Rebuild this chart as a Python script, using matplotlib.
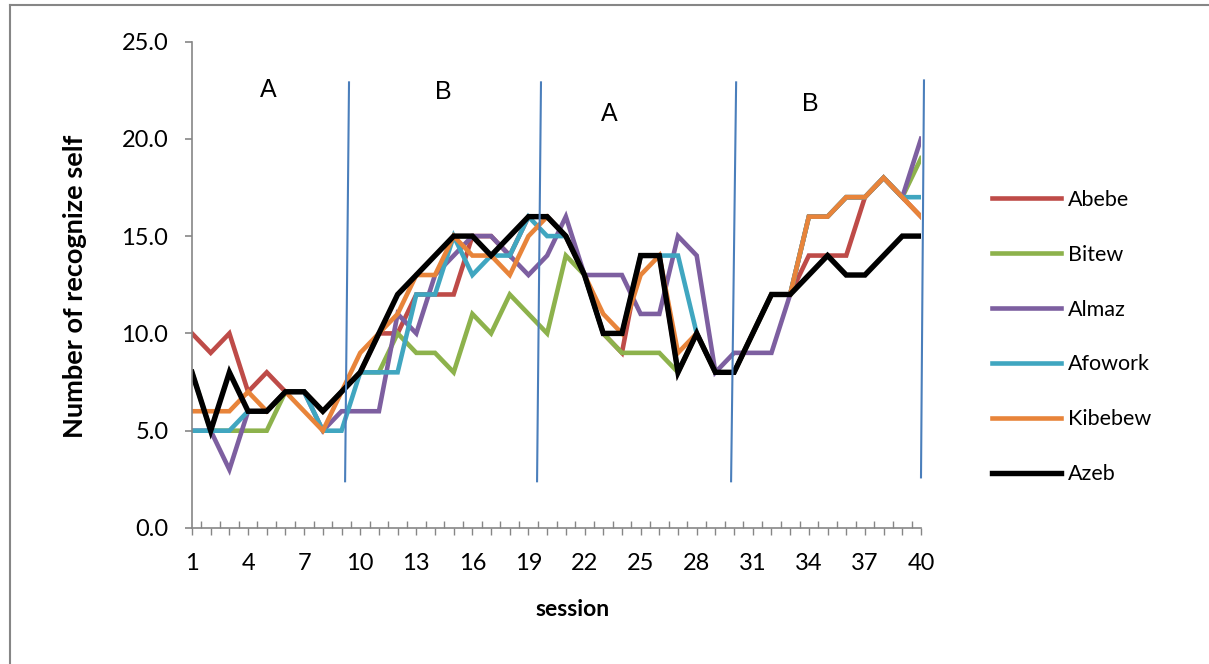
import numpy as np
import matplotlib

matplotlib.use('Agg')
import matplotlib.pyplot as plt
from matplotlib.ticker import FixedLocator, FormatStrFormatter

sessions = np.arange(1, 41)

abebe = [10, 9, 10, 7, 8, 7, 7, 6, 7, 8, 10, 10, 12, 12, 12, 15, 15, 14, 16, 16,
         15, 13, 10, 9, 14, 14, 8, 10, 8, 8, 10, 12, 12, 14, 14, 14, 17, 18, 17, 16]
bitew = [8, 5, 5, 5, 5, 7, 7, 6, 7, 8, 8, 10, 9, 9, 8, 11, 10, 12, 11, 10,
         14, 13, 10, 9, 9, 9, 8, 10, 8, 8, 10, 12, 12, 16, 16, 17, 17, 18, 17, 19]
almaz = [5, 5, 3, 6, 6, 7, 7, 5, 6, 6, 6, 11, 10, 13, 14, 15, 15, 14, 13, 14,
         16, 13, 13, 13, 11, 11, 15, 14, 8, 9, 9, 9, 12, 16, 16, 17, 17, 18, 17, 20]
afowork = [5, 5, 5, 6, 6, 7, 7, 5, 5, 8, 8, 8, 12, 12, 15, 13, 14, 14, 16, 15,
           15, 13, 10, 10, 14, 14, 14, 10, 8, 8, 10, 12, 12, 16, 16, 17, 17, 18, 17, 17]
kibebew = [6, 6, 6, 7, 6, 7, 6, 5, 7, 9, 10, 11, 13, 13, 15, 14, 14, 13, 15, 16,
           15, 13, 11, 10, 13, 14, 9, 10, 8, 8, 10, 12, 12, 16, 16, 17, 17, 18, 17, 16]
azeb = [8, 5, 8, 6, 6, 7, 7, 6, 7, 8, 10, 12, 13, 14, 15, 15, 14, 15, 16, 16,
        15, 13, 10, 10, 14, 14, 8, 10, 8, 8, 10, 12, 12, 13, 14, 13, 13, 14, 15, 15]

names = ['Abebe', 'Bitew', 'Almaz', 'Afowork', 'Kibebew', 'Azeb']
series = [abebe, bitew, almaz, afowork, kibebew, azeb]
colors = ['#BE4B48', '#8DB24C', '#7D5FA0', '#40A6C0', '#E8843A', '#000000']

# phase dividers (session at top, session at bottom, y bottom, y top) and phase labels
dividers = [(9.40, 9.19, 2.4, 22.9), (19.67, 19.46, 2.4, 22.9),
            (30.11, 29.84, 2.4, 22.9), (40.16, 40.0, 2.6, 23.0)]
phase_labels = ['A', 'B', 'A', 'B']
phase_pos = [(5.07, 22.5), (14.43, 22.4), (23.31, 21.3), (34.07, 21.8)]

xtick_labels = list(range(1, 41, 3))

plt.rcParams['font.family'] = ['Lato', 'DejaVu Sans']

fig = plt.figure(figsize=(12.09, 6.64), dpi=100)
ax = fig.add_axes([192 / 1209, 136 / 664, 729 / 1209, 486.5 / 664])

for name, vals, col in zip(names, series, colors):
    lw = 3.9 if name == 'Azeb' else 3.3
    ax.plot(sessions, vals, color=col, lw=lw, label=name, solid_joinstyle='miter')

for xt, xb, yb, yt in dividers:
    ax.plot([xb, xt], [yb, yt], color='#4A7EBB', lw=1.5, clip_on=False)

for lab, (x, y) in zip(phase_labels, phase_pos):
    ax.text(x, y, lab, fontsize=18, family=['Liberation Sans'], ha='center', va='center')

ax.set_xlim(1, 40)
ax.set_ylim(0, 25)

for side in ['top', 'right']:
    ax.spines[side].set_visible(False)
for side in ['left', 'bottom']:
    ax.spines[side].set_color('#868686')
    ax.spines[side].set_linewidth(1.2)

ax.yaxis.set_major_locator(FixedLocator([0, 5, 10, 15, 20, 25]))
ax.yaxis.set_major_formatter(FormatStrFormatter('%.1f'))
ax.tick_params(axis='y', which='major', direction='out', length=5, width=1.2,
               color='#868686', labelsize=17, pad=12)

ax.xaxis.set_major_locator(FixedLocator(sessions))
ax.xaxis.set_minor_locator(FixedLocator(sessions[:-1] + 0.5))
ax.set_xticklabels([str(s) if s in xtick_labels else '' for s in sessions])
ax.tick_params(axis='x', which='major', direction='out', length=5, width=1.0,
               color='#868686', labelsize=17, pad=13)
ax.tick_params(axis='x', which='minor', direction='in', length=5, width=1.0,
               color='#868686')

fig.text(75 / 1209, 1 - 286 / 664, 'Number of recognize self', rotation=90,
         fontsize=19.5, fontweight='bold', ha='center', va='center')
fig.text(573 / 1209, 1 - 610 / 664, 'session', fontsize=16.5, fontweight='bold',
         ha='center', va='center')

fig.legend(loc='center left', bbox_to_anchor=(992 / 1209, 1 - 337 / 664),
           frameon=False, fontsize=15.5, handlelength=3.2, handletextpad=0.35,
           labelspacing=1.62, borderpad=0, borderaxespad=0)

# chart frame (left and top edges)
fig.add_artist(plt.Line2D([10 / 1209, 10 / 1209], [0, 1 - 5 / 664],
                          transform=fig.transFigure, color='#868686', lw=1.5))
fig.add_artist(plt.Line2D([10 / 1209, 1], [1 - 5 / 664, 1 - 5 / 664],
                          transform=fig.transFigure, color='#868686', lw=1.5))

fig.savefig('out.png', dpi=100)
